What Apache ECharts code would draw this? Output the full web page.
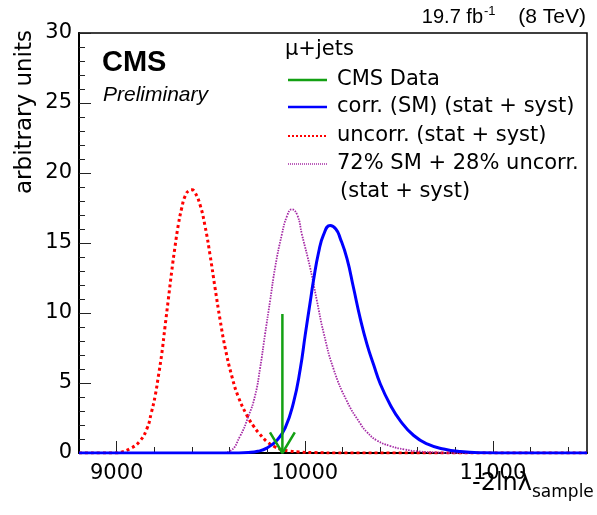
<!DOCTYPE html>
<html>
<head>
<meta charset="utf-8">
<script src="https://cdn.jsdelivr.net/npm/echarts@6/dist/echarts.min.js"></script>
<style>
html,body{margin:0;padding:0;background:#fff;}
#chart{width:597px;height:515px;}
</style>
</head>
<body>
<div id="chart"></div>
<script>
// ---- data ----
var xTickLabels = [9000, 10000, 11000];
var yTickLabels = [0, 5, 10, 15, 20, 25, 30];

var uncorrX = [8800, 9000, 9020, 9070, 9120, 9160, 9185, 9205, 9222, 9240, 9257, 9275, 9293, 9311, 9328, 9346, 9364, 9385, 9400, 9417, 9444, 9470, 9497, 9523, 9550, 9577, 9612, 9647, 9692, 9726, 9760, 9800, 9840, 9869, 9920, 9970, 10050, 10200, 11500];
var uncorrY = [0, 0, 0.05, 0.3, 0.8, 1.7, 2.9, 4.1, 5.5, 7.1, 9.0, 11.0, 13.0, 14.8, 16.3, 17.5, 18.35, 18.75, 18.8, 18.6, 17.7, 16.2, 14.1, 11.8, 9.5, 7.5, 5.5, 4.0, 2.7, 1.95, 1.36, 0.8, 0.45, 0.28, 0.14, 0.07, 0.03, 0, 0];

var mixX = [8800, 9550, 9603, 9656, 9700, 9736, 9763, 9789, 9816, 9843, 9878, 9905, 9931, 9960, 9985, 10029, 10064, 10100, 10153, 10224, 10295, 10330, 10383, 10454, 10530, 10600, 10700, 10800, 11500];
var mixY = [0, 0, 0.15, 1.2, 2.6, 4.1, 6.1, 8.5, 10.9, 13.3, 15.6, 16.9, 17.4, 17.0, 15.6, 13.2, 10.9, 8.6, 6.0, 3.7, 2.1, 1.5, 0.9, 0.5, 0.25, 0.12, 0.04, 0, 0];

var corrX = [8800, 9600, 9700, 9750, 9798, 9851, 9896, 9940, 9976, 10002, 10029, 10046, 10073, 10100, 10135, 10165, 10188, 10224, 10259, 10295, 10330, 10366, 10401, 10454, 10508, 10579, 10650, 10738, 10827, 10950, 11100, 11500];
var corrY = [0, 0, 0.04, 0.12, 0.35, 0.9, 1.8, 3.6, 6.0, 8.4, 10.8, 12.3, 14.3, 15.6, 16.25, 16.0, 15.35, 13.9, 11.8, 9.6, 7.8, 6.3, 4.95, 3.45, 2.3, 1.25, 0.65, 0.28, 0.1, 0.02, 0, 0];

var dataX = [9881];
var dataArrowTop = [9.93];

// ---- helpers ----
function pairs(xs, ys) { var o = []; for (var i = 0; i < xs.length; i++) o.push([xs[i], ys[i]]); return o; }

var FONT = 'DejaVu Sans';
var C_GREEN = '#13a013', C_BLUE = '#0000ff', C_RED = '#ff0000', C_MAG = '#a52aa5';

var ARROW_HALF_W = 66, ARROW_H = 1.47;
var arrowHead = [[dataX[0] - ARROW_HALF_W, ARROW_H], [dataX[0], 0], [dataX[0] + ARROW_HALF_W, ARROW_H]];

var chart = echarts.init(document.getElementById('chart'), null, {renderer: 'canvas'});
var legendRows = [
  {y: 80, color: C_GREEN, type: 'solid', w: 2.5, label: 'CMS Data'},
  {y: 107, color: C_BLUE, type: 'solid', w: 2.5, label: 'corr. (SM) (stat + syst)'},
  {y: 136, color: C_RED, type: [2, 2], w: 2, label: 'uncorr. (stat + syst)'},
  {y: 164, color: C_MAG, type: [1, 1], w: 1.5, label: '72% SM + 28% uncorr.'}
];
var graphics = [];
legendRows.forEach(function (r) {
  graphics.push({type: 'line', shape: {x1: 288, y1: r.y, x2: 327, y2: r.y}, style: {stroke: r.color, lineWidth: r.w, lineDash: r.type === 'solid' ? null : r.type}, z: 100});
  graphics.push({type: 'text', x: 337, y: r.y, style: {text: r.label, font: '21px "' + FONT + '"', fill: '#000', textAlign: 'left', textVerticalAlign: 'middle'}, z: 100});
});
graphics.push({type: 'text', x: 340, y: 192, style: {text: '(stat + syst)', font: '21px "' + FONT + '"', fill: '#000', textAlign: 'left', textVerticalAlign: 'middle'}, z: 100});
graphics.push({type: 'text', x: 285, y: 50, style: {text: 'μ+jets', font: '21px "' + FONT + '"', fill: '#000', textAlign: 'left', textVerticalAlign: 'middle'}, z: 100});
// CMS / Preliminary
graphics.push({type: 'text', x: 102, y: 63, style: {text: 'CMS', font: 'bold 29px "Liberation Sans"', fill: '#000', textAlign: 'left', textVerticalAlign: 'middle'}, z: 100});
graphics.push({type: 'text', x: 103, y: 95, style: {text: 'Preliminary', font: 'italic 21px "Liberation Sans"', fill: '#000', textAlign: 'left', textVerticalAlign: 'middle'}, z: 100});
// lumi
graphics.push({type: 'text', x: 483, y: 17, style: {text: '19.7 fb', font: '20px "Liberation Sans"', fill: '#000', textAlign: 'right', textVerticalAlign: 'middle'}, z: 100});
graphics.push({type: 'text', x: 484, y: 11, style: {text: '-1', font: '13px "Liberation Sans"', fill: '#000', textAlign: 'left', textVerticalAlign: 'middle'}, z: 100});
graphics.push({type: 'text', x: 586, y: 17, style: {text: '(8 TeV)', font: '21px "Liberation Sans"', fill: '#000', textAlign: 'right', textVerticalAlign: 'middle'}, z: 100});
// axis titles
graphics.push({type: 'text', x: 25, y: 112, rotation: Math.PI / 2, style: {text: 'arbitrary units', font: '23px "' + FONT + '"', fill: '#000', textAlign: 'center', textVerticalAlign: 'middle'}, z: 100});
graphics.push({type: 'text', x: 532, y: 484, style: {text: '-2lnλ', font: '24px "' + FONT + '"', fill: '#000', textAlign: 'right', textVerticalAlign: 'middle'}, z: 100});
graphics.push({type: 'text', x: 532, y: 493, style: {text: 'sample', font: '17px "' + FONT + '"', fill: '#000', textAlign: 'left', textVerticalAlign: 'middle'}, z: 100});

var option = {
  animation: false,
  backgroundColor: '#fff',
  grid: {left: 79, right: 10, top: 33, bottom: 62, show: true, borderColor: '#000', borderWidth: 1.5, containLabel: false},
  xAxis: [
    {type: 'value', min: 8800, max: 11500, interval: 200, position: 'bottom',
      axisLine: {show: true, onZero: false, lineStyle: {color: '#000', width: 2}},
      axisTick: {show: true, inside: true, length: 6, lineStyle: {color: '#222', width: 1}},
      axisLabel: {color: '#000', fontFamily: FONT, fontSize: 21, margin: 10, showMinLabel: false, showMaxLabel: false,
        formatter: function (val) { return xTickLabels.indexOf(val) >= 0 ? String(val) : ''; }},
      splitLine: {show: false}},
    {type: 'value', min: 8800, max: 11500, position: 'bottom',
      axisLine: {show: false, onZero: false},
      axisTick: {show: true, inside: true, length: 12, customValues: xTickLabels, lineStyle: {color: '#222', width: 1}},
      axisLabel: {show: false},
      splitLine: {show: false}}
  ],
  yAxis: {type: 'value', min: 0, max: 30, interval: 5,
    axisLine: {show: true, onZero: false, lineStyle: {color: '#000', width: 2}},
    axisTick: {show: true, inside: true, length: 12, lineStyle: {color: '#222', width: 1}},
    minorTick: {show: true, splitNumber: 5, length: 6, lineStyle: {color: '#222', width: 1}},
    axisLabel: {color: '#000', fontFamily: FONT, fontSize: 21, margin: 7,
      formatter: function (val) { return yTickLabels.indexOf(val) >= 0 ? String(val) : ''; }},
    splitLine: {show: false}},
  series: [
    {name: 'uncorr. (stat + syst)', type: 'line', data: pairs(uncorrX, uncorrY), showSymbol: false, smooth: 0.5,
      lineStyle: {color: C_RED, width: 3, type: [3, 3]}, z: 3},
    {name: '72% SM + 28% uncorr.', type: 'line', data: pairs(mixX, mixY), showSymbol: false, smooth: 0.5,
      lineStyle: {color: C_MAG, width: 1.8, type: [1.5, 1.2]}, z: 4},
    {name: 'corr. (SM) (stat + syst)', type: 'line', data: pairs(corrX, corrY), showSymbol: false, smooth: 0.5,
      lineStyle: {color: C_BLUE, width: 3}, z: 5},
    {name: 'CMS Data', type: 'line', data: [[dataX[0], 0], [dataX[0], dataArrowTop[0]]], showSymbol: false,
      lineStyle: {color: C_GREEN, width: 2.5}, z: 6},
    {name: 'CMS Data arrow', type: 'line', data: arrowHead, showSymbol: false,
      lineStyle: {color: C_GREEN, width: 2.5}, z: 6}
  ],
  graphic: graphics
};
chart.setOption(option);
</script>
</body>
</html>
